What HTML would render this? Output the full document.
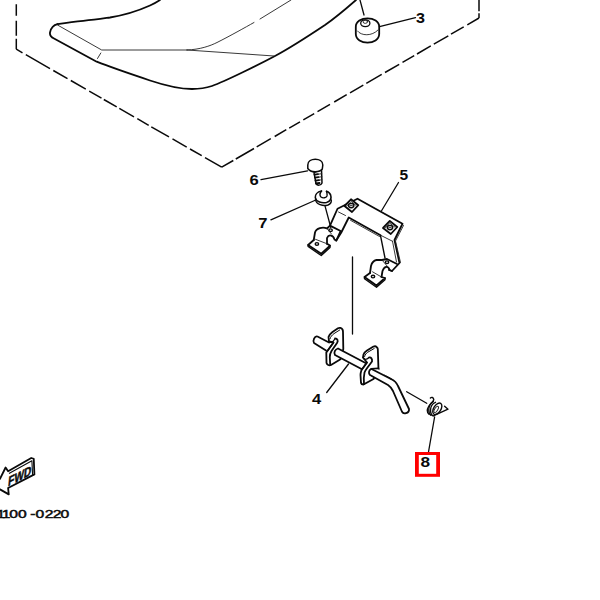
<!DOCTYPE html>
<html><head><meta charset="utf-8"><title>Seat parts diagram</title>
<style>
html,body{margin:0;padding:0;background:#fff;}
body{width:600px;height:600px;overflow:hidden;}
svg{display:block;}
.k{fill:none;stroke:#0a0a0a;stroke-width:1.8;stroke-linecap:round;stroke-linejoin:round;}
.m{fill:none;stroke:#0a0a0a;stroke-width:1.4;stroke-linecap:round;stroke-linejoin:round;}
.l{fill:none;stroke:#0a0a0a;stroke-width:1.3;stroke-linecap:round;stroke-linejoin:round;}
.t{fill:none;stroke:#222;stroke-width:0.9;stroke-linecap:round;stroke-linejoin:round;}
.w{fill:#fff;}
.lbl{font-family:"Liberation Sans",sans-serif;font-weight:bold;font-size:14.4px;fill:#0a0a0a;text-anchor:middle;}
</style></head>
<body>
<svg width="600" height="600" viewBox="0 0 600 600">
<rect width="600" height="600" fill="#fff"/>

<!-- dashed boundary -->
<path id="dash" class="m" style="stroke-linecap:butt;stroke-width:1.5" d="M16.3,4.2V15.8M16.3,20.8V35.8M16.3,38.7V49.2M16.3,49.2L22.5,52.8M25.8,54.7L50.0,68.6M53.3,70.5L67.5,78.6M70.8,80.5L85.8,89.1M89.2,91.1L101.5,98.1M103.8,99.5L116.7,106.9M119.3,108.4L134.0,116.8M137.3,118.7L148.7,125.3M151.3,126.8L169.0,136.9M172.5,138.9L186.7,147.1M190.0,149.0L201.7,155.7M205.0,157.6L221.7,167.2M221.7,167.2L233.3,160.5M235.8,159.0L254.0,148.5M256.7,146.9L270.8,138.7M274.7,136.5L286.3,129.7M289.2,128.1L300.0,121.8M303.3,119.9L314.2,113.6M317.5,111.6L330.0,104.4M334.2,102.0L346.7,94.7M350.0,92.8L363.3,85.1M366.3,83.4L381.7,74.4M385.0,72.5L399.2,64.3M402.5,62.4L414.2,55.6M417.0,54.0L430.8,45.9M433.8,44.2L448.3,35.8M451.0,34.2L463.7,26.9M467.3,24.8L479.0,18.0M479,18V13.3M479,11.3V0"/>

<!-- seat -->
<g id="seat">
<path class="k" d="M57.5,24.2 C66,22.8 75,21.5 83.3,20.8 C95,19.8 103,18.5 110,17.5 C125,15 140,10 150,5.5 C154,3.7 157,2 160,0"/>
<path class="k" d="M57.5,24.2 C53.5,25 51,28 50,32.5 C49.5,35.5 52,37.5 54,38.5 L96.7,61.7 C105,65 135,75.5 150,80.5 C165,85.5 180,89 192,89 C200,89 206,88 212,86 C225,81.5 260,64 275,56 C290,48 310,35 325,25 C335,18 348,7 356,0"/>
<path class="t" d="M57.5,25 L101.7,50 L187,50 M100.8,53 L97.5,58.5 M187,50 C200,49.5 210,46 217,42.5 C230,36 245,27.5 254,22.5 M260,19 L291,0 M187,50 L274,56"/>
</g>

<!-- item 3 bumper -->
<g id="p3">
<path class="l" d="M360,0 L364,15"/>
<path class="k w" d="M355.8,27 C355.5,15.5 379.5,15.5 379.2,27 V34 C379,45.5 356,45.5 355.8,34 Z"/>
<path class="t" d="M357.5,31 C361,36 372,36.5 378,30"/>
<ellipse class="l" cx="365.3" cy="23.3" rx="4.6" ry="3.4"/>
<ellipse class="t" cx="365.3" cy="21.8" rx="2.2" ry="1.6"/>
<path class="l" d="M379.5,26.7 L415.5,17.7"/>
<text class="lbl" transform="translate(420.5 23.2) scale(1.12 1)">3</text>
</g>

<!-- item 6 bolt -->
<g id="p6">
<path class="l" d="M261,179.6 L307.5,170.8"/>
<path class="m w" style="stroke-width:1.5" d="M314,172.5 L316,183.5 C317.5,186 321,185.5 322,183 L321.5,169.5 Z"/>
<path class="k" d="M314.5,174.7 L318,174.2 M315,177.7 L318.5,177.2 M315.5,180.7 L319,180.2 M316,183.5 L319.5,183"/>
<path class="t" d="M318,174.2 L321.7,173.7 M318.5,177.2 L321.8,176.7 M319,180.2 L321.9,179.7"/>
<path class="m w" style="stroke-width:1.5" d="M307.8,165 C307.8,157.4 322.8,157.4 322.8,165 L322.3,169 C320,172.3 311,173.3 307.8,168.5 Z"/>
<text class="lbl" transform="translate(254.1 185.4) scale(1.15 1)">6</text>
</g>

<!-- item 7 washer -->
<g id="p7">
<path class="l" d="M270.9,219.8 L315.8,200"/>
<path class="k" style="stroke-width:1.6" d="M321.5,191 C317,192 315,195 315.3,197.5 C316,202 322,203.5 326.5,202.5 C330.5,201.5 331.5,198 330.8,195.5 C330.3,193.5 328.5,192 326.5,191.3"/>
<path class="m" d="M321.5,191 C320,193 319.5,195.5 321,197 C323,198.5 326,198 327,196 C327.5,194.5 327,193 326.5,191.3"/>
<path class="m" d="M315.5,199.5 C316,204.5 323,206.5 328,205 C330.5,204 331.5,202 331.3,200"/>
<path class="l" d="M325,205.8 L330.8,227.5"/>
<text class="lbl" transform="translate(262.8 228.2) scale(1.15 1)">7</text>
</g>

<!-- item 5 bracket -->
<g id="p5">
<path class="l" d="M398.5,182.5 L381.4,211"/>
<text class="lbl" transform="translate(403.8 179.7) scale(1.08 1)">5</text>
<!-- top plate & legs -->
<path class="k" d="M330,225.6 L337.5,208.75 L357.5,198.75 L402.5,223.75 L394.5,240 L399.5,263 L392,271 L389,270"/>
<path class="k" d="M336.25,240.6 L341.25,232.5 L348.75,217.5 L380.5,235.2"/>
<path class="t" d="M380.5,235.2 L392.5,241.25 M350.5,220.3 L379.5,236.5"/>
<path class="m" d="M380.5,235.6 L385,258"/>
<path class="t" d="M403.5,225.5 L395.5,241 L400.5,262.5 M392.5,241.25 L396.5,262"/>
<path class="t" d="M338.5,212 L345.5,215.5"/>
<!-- nuts -->
<path class="k w" d="M351,199.3 L358.3,205.2 L352,212 L344.5,206 Z"/>
<path class="t" d="M346.5,206.2 L351.2,201.5 L356,205.4"/>
<ellipse class="m" cx="351.2" cy="205.6" rx="2.7" ry="2.1"/>
<path class="t" d="M350,205.6 H352.4"/>
<path class="k w" d="M389.8,221 L397.3,227 L390.8,234 L383,228 Z"/>
<path class="t" d="M385,228.2 L389.9,223.3 L395,227.2"/>
<ellipse class="m" cx="390" cy="227.6" rx="2.7" ry="2.1"/>
<path class="t" d="M388.8,227.6 H391.2"/>
<!-- left clamp -->
<path class="k" d="M313.75,240 L315,232.5 C316,228 323,226.5 327,228.5 L330,225.6 L340.6,231 L336.25,240.6 L334.4,239.4 C333.5,235.5 329,233.5 327,238 L327,243.75"/>
<path class="k" d="M313.75,240 L308.1,245 L321.25,253.75 L330,245.6 L327,243.75"/>
<path class="m" d="M308.1,245 V246.5 L321.25,255.5 L330,247.5 V245.6"/>
<ellipse class="m" cx="316.9" cy="243.9" rx="1.7" ry="1.3"/>
<ellipse class="m" cx="330.6" cy="230.2" rx="1.7" ry="1.3"/>
<path class="t" d="M315.5,239.3 L327,243.75"/>
<path class="t" d="M327,228.5 L331.5,234"/>
<!-- right clamp -->
<path class="k" d="M370,273 L371,266 C372,262 375,260.3 376.5,260 L382,260 L387,259 L397,264"/>
<path class="k" d="M392,271 L389.5,270 C388.5,266 384.5,265.5 382.5,271 L381.5,277"/>
<path class="k" d="M370,273 L364.5,277 L376.5,285.5 L385,278 L381.5,277"/>
<path class="m" d="M364.5,277 V278.8 L376.5,287.3 L385,279.8 V278"/>
<ellipse class="m" cx="373" cy="276.6" rx="1.7" ry="1.3"/>
<ellipse class="m" cx="387" cy="262.2" rx="1.7" ry="1.3"/>
<path class="t" d="M372.5,271.8 L381.5,277"/>
<path class="t" d="M382,260 L387.5,266.5"/>
</g>

<!-- centre line -->
<path class="l" d="M352.5,257 V334"/>

<!-- item 4 rod -->
<g id="p4">
<path class="l" d="M326.7,392.5 L348.5,364"/>
<text class="lbl" transform="translate(316.7 404.2) scale(1.15 1)">4</text>
<!-- rod left stub -->
<path class="k w" d="M329,342.5 L317.5,336.5 C314.5,335.5 312.5,341 314,343 L326,350.5"/>
<!-- plate 1 -->
<path class="k w" d="M329,341.5 L328.5,337 C329,334.8 330.8,333.3 332.5,332 L338,328.3 C339.5,327.3 341.5,327.8 342.5,329.5 C343,330.5 343,331 343,332 L343.3,349 L340.5,359.3 L331,365 C329,365.8 327,364.8 326.5,363 L326.3,352.5 L333.5,342.5 Z"/>
<path class="m" d="M329,341.5 C330.5,343.2 333,342 334.5,339.5 M333.5,342.5 L327,351.5"/>
<path class="k" d="M335,338.5 C337.5,338.5 338.5,340.5 337,343 L331.5,351 C330,353.5 329.8,355 329.8,357 L330.2,364.8"/>
<path class="l" style="stroke-width:1" d="M330,338.8 C330.5,336.8 332,335.2 334,333.6 L339.7,330"/>
<!-- rod middle -->
<path class="w" d="M338,348.5 L366.5,363.5 L361.5,369 L335,355 C333.5,353 334.5,350 338,348.5 Z"/>
<path class="k" d="M366.5,363.5 L338,348.5 C335,349.5 333.5,352.5 335,355 L361.5,369"/>
<!-- plate 2 -->
<path class="k w" d="M363,357.5 L363.5,354.5 C364,352.5 365.5,351.5 367,350.5 L373.5,346.5 C375,346 376,346.3 376.5,347 C377.5,347.8 377.8,348.5 377.8,349 L378.5,369.5 L373.5,379 L363.5,384.5 C362,384.5 361.2,384 361,383 L360.5,375 C360.5,373 361,371.5 361.5,370 L367,362.5 Z"/>
<path class="m" d="M363,357.5 C364,360 366.5,360 369,357.5 M367,362.5 L361.5,370"/>
<path class="k" d="M369,357.5 C371,357 372.5,359 372,361.5 L367.5,367.5 C366,369.5 364.8,371 364.5,372.5 L363.8,378 L364,384"/>
<path class="l" style="stroke-width:1" d="M364.6,356.5 C365,354.5 366.3,353.2 367.8,352.2 L374.2,348.5"/>
<!-- rod right + bend -->
<path class="k w" d="M378.5,368.5 L371,369 C368.5,370.5 368.5,373.5 370,375 L388,385 C390,386.3 391.5,388 393,391 L401.7,411 C403,415 409.5,413.5 409,409 L398,386 C396.5,382.5 394.5,380.5 391,379 L378.5,372.5"/>
<path class="w" d="M371.5,369.5 L378.2,369.5 L391,380 L380,379 Z"/>
<path class="k" d="M371.5,369 L391,379"/>
</g>

<!-- item 8 spring -->
<g id="p8">
<path class="l" d="M406.7,391.7 L426.7,403.3"/>
<path class="m" d="M430.4,398 C431.5,397 433.5,397.2 433.75,399.6 C433.5,401.5 431.5,403 430.8,403.75 C428.5,406.5 427.2,408 427.3,410.5 C427.3,412.5 428,413.5 429,414.3"/>
<path class="m" d="M435.5,402.3 C432.5,403.5 430.5,407 430.5,410 C430.5,413 431.5,415 433,415.8"/>
<path class="m" d="M433.3,401.3 C430.5,403 428.8,406.5 428.8,410 C428.8,412.8 429.8,414.6 431,415.3"/>
<ellipse class="m" cx="437.3" cy="408.8" rx="3.6" ry="6.4" transform="rotate(32 437.3 408.8)"/>
<ellipse class="t" cx="436.2" cy="409.4" rx="1.5" ry="3.6" transform="rotate(32 436.2 409.4)"/>
<path class="m" d="M433.3,415.8 L448,409.2 L444.6,406.25"/>
<path class="l" d="M434.6,417 L428.5,452"/>
<rect x="415" y="452" width="25" height="24.8" fill="#ff0000"/>
<rect x="418.8" y="455" width="17.4" height="18.8" fill="#fff"/>
<text class="lbl" style="font-size:15px" transform="translate(425.4 467.3) scale(1.15 1)">8</text>
</g>

<!-- FWD arrow -->
<g id="fwd">
<path class="k" d="M0,478.75 L5.6,467.5 L8.1,471.25 L31.25,458 L33.75,458.75 L34.4,474.4 L8.1,488 L8.75,494.4 L0,489.4"/>
<path class="l" style="stroke-width:1.1" d="M9.4,473.3 L31.9,460.8 L32.6,475.2"/>
<text x="0" y="0" transform="translate(7.8 486.6) skewY(-27) skewX(-6) scale(0.78 1)" style="font-family:'Liberation Sans',sans-serif;font-weight:bold;font-size:13px;fill:#0a0a0a;stroke:#0a0a0a;stroke-width:0.5">FWD</text>
</g>

<!-- drawing number -->
<text x="-2.43 1.21 6.64 12.86 21.57 25.43 32.00 37.71 43.29" y="518.4" dy="0 0 0 0 -0.9 0.9 0 0 0" transform="scale(1.4 1)" style="font-family:'Liberation Sans',sans-serif;font-size:11.2px;fill:#0a0a0a;stroke:#0a0a0a;stroke-width:0.45">1100-0220</text>
</svg>
</body></html>
